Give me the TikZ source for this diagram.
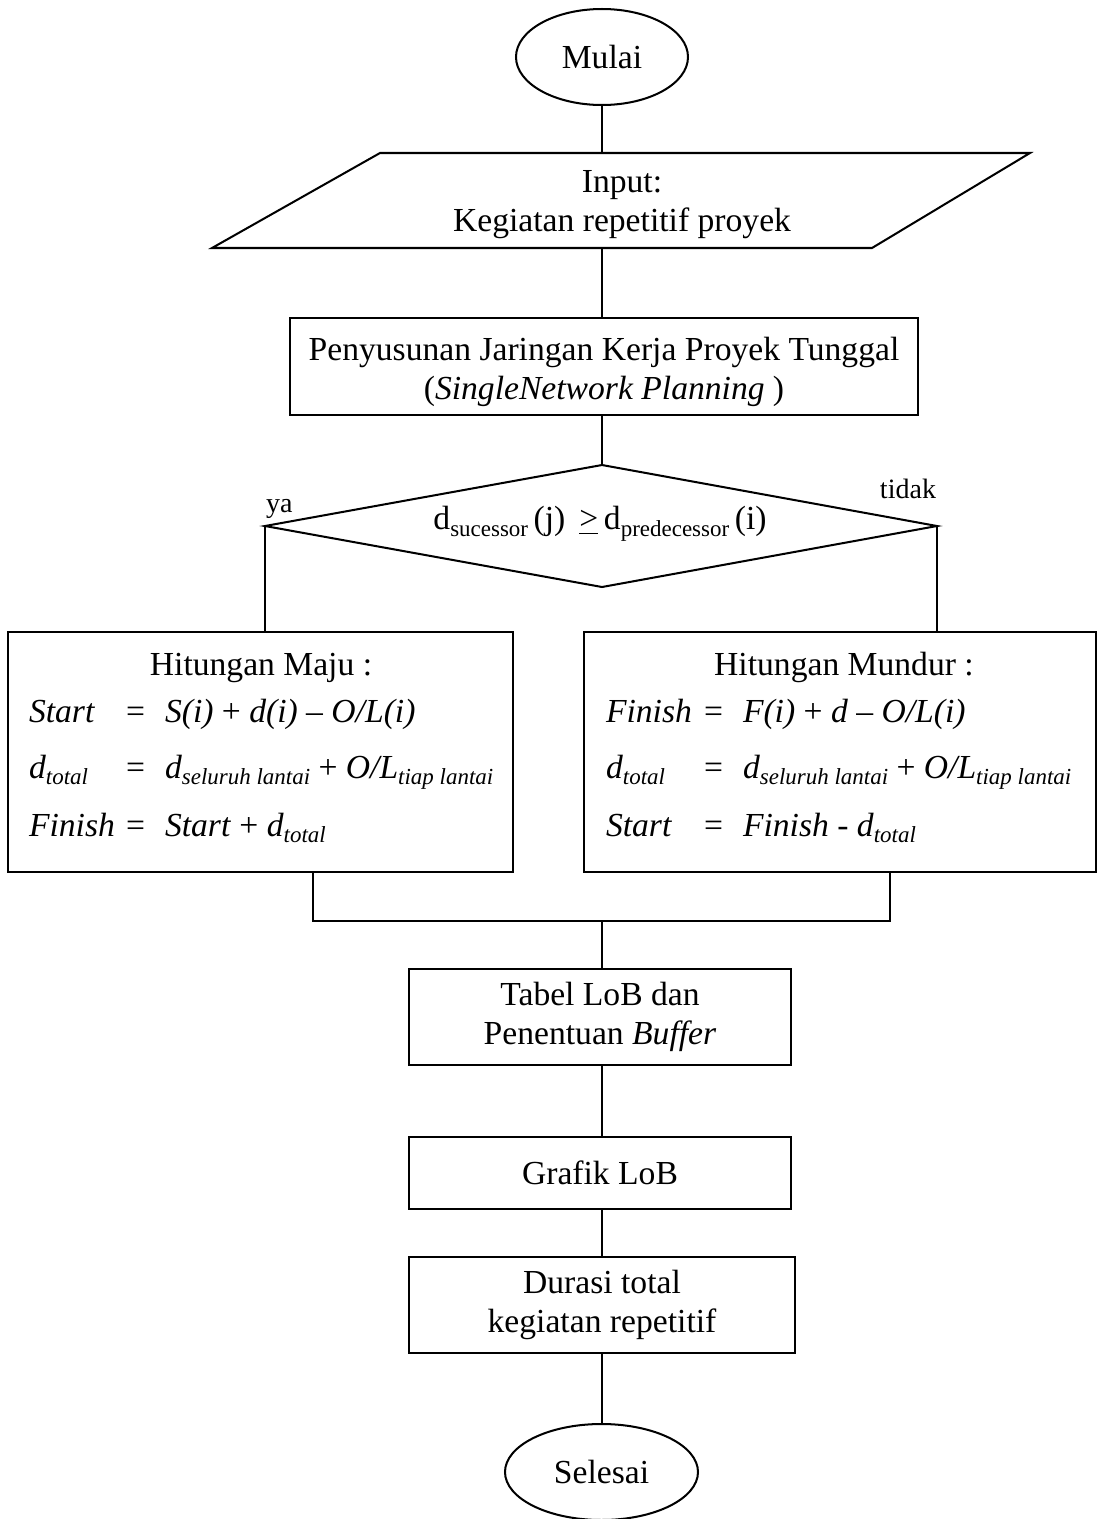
\documentclass[tikz,border=0pt]{standalone}
\usepackage{fontspec}
\setmainfont{Liberation Serif}
\usetikzlibrary{shapes.geometric}
\newcommand\pw[1]{#1*0.357pt}
% subscript set in the text font, a little lowered
\newcommand\subs[1]{\raisebox{-2.4pt}{\fontsize{8.2}{9}\selectfont #1}}
\begin{document}
\begin{tikzpicture}[x=0.357pt,y=-0.357pt,line width=0.72pt,
  font=\fontsize{12}{14}\selectfont,
  terminal/.style={draw,ellipse,inner sep=0pt,minimum height=\pw{96}},
  procbox/.style={draw,rectangle,align=center,inner sep=0pt},
  plain/.style={inner sep=0pt,align=center},
  lbl/.style={anchor=base west,inner sep=0pt},
  eqs/.style={anchor=base,inner sep=0pt},
  small/.style={inner sep=0pt,font=\fontsize{10}{12}\selectfont}]
\useasboundingbox (0,0) rectangle (1098,1519);

% start / end
\node[terminal,minimum width=\pw{172}] (mulai) at (602,57) {Mulai};
\node[terminal,minimum width=\pw{193}] (selesai) at (601.5,1472) {Selesai};

% input parallelogram
\coordinate (p1) at (380,153);
\coordinate (p2) at (1030,153);
\coordinate (p3) at (872,248);
\coordinate (p4) at (212,248);
\draw (p1) -- (p2) -- (p3) -- (p4) -- cycle;
\coordinate (pin) at (602,153);
\coordinate (pout) at (602,248);
\node[plain] (input) at (622,205) {Input:\\Kegiatan repetitif proyek};

% single network planning
\node[procbox,minimum width=\pw{628},minimum height=\pw{97}] (plan) at (604,366.5) {};
\node[plain] (planT) at (604,372)
  {Penyusunan Jaringan Kerja Proyek Tunggal\\(\textit{SingleNetwork Planning} )};

% decision
\coordinate (dt) at (602,465);
\coordinate (dr) at (937,526);
\coordinate (db) at (602,587);
\coordinate (dl) at (265,526);
\draw (dt) -- (dr) -- (db) -- (dl) -- cycle;
\node[plain] (cond) at (600,524)
  {d\subs{sucessor}\,(j) \,\underline{>}\,d\subs{predecessor}\,(i)};
\node[small,anchor=base west] (ya) at (265,512) {ya};
\node[small,anchor=base east] (tidak) at (937,498) {tidak};

% forward / backward computation
\node[procbox,minimum width=\pw{505},minimum height=\pw{240}] (maju) at (260.5,752) {};
\node[procbox,minimum width=\pw{512},minimum height=\pw{240}] (mundur) at (840,752) {};

\node[eqs] (majuT) at (261,675) {Hitungan Maju :};
\node[lbl] (m1a) at (28,722) {\textit{Start}};
\node[lbl] (m1b) at (125,722) {=};
\node[lbl] (m1c) at (164,722) {\textit{S(i)} + \textit{d(i)} – \textit{O/L(i)}};
\node[lbl] (m2a) at (28,778) {\textit{d}\subs{\textit{total}}};
\node[lbl] (m2b) at (125,778) {=};
\node[lbl] (m2c) at (164,778) {\textit{d}\subs{\textit{seluruh lantai}} + \textit{O/L}\subs{\textit{tiap lantai}}};
\node[lbl] (m3a) at (28,836) {\textit{Finish}};
\node[lbl] (m3b) at (125,836) {=};
\node[lbl] (m3c) at (164,836) {\textit{Start} + \textit{d}\subs{\textit{total}}};

\node[eqs] (mundurT) at (844,675) {Hitungan Mundur :};
\node[lbl] (n1a) at (605,722) {\textit{Finish}};
\node[lbl] (n1b) at (703,722) {=};
\node[lbl] (n1c) at (742,722) {\textit{F(i)} + \textit{d} – \textit{O/L(i)}};
\node[lbl] (n2a) at (605,778) {\textit{d}\subs{\textit{total}}};
\node[lbl] (n2b) at (703,778) {=};
\node[lbl] (n2c) at (742,778) {\textit{d}\subs{\textit{seluruh lantai}} + \textit{O/L}\subs{\textit{tiap lantai}}};
\node[lbl] (n3a) at (605,836) {\textit{Start}};
\node[lbl] (n3b) at (703,836) {=};
\node[lbl] (n3c) at (742,836) {\textit{Finish} - \textit{d}\subs{\textit{total}}};

% merge
\coordinate (jl) at (313,921);
\coordinate (jr) at (890,921);
\coordinate (jm) at (602,921);

% remaining steps
\node[procbox,minimum width=\pw{382},minimum height=\pw{96}] (tabel) at (600,1017)
  {Tabel LoB dan\\Penentuan \textit{Buffer}};
\node[procbox,minimum width=\pw{382},minimum height=\pw{72}] (grafik) at (600,1173)
  {Grafik LoB};
\node[procbox,minimum width=\pw{386},minimum height=\pw{96}] (durasi) at (602,1305)
  {Durasi total\\kegiatan repetitif};

% connectors
\draw (mulai.south) -- (pin);
\draw (pout) -- (plan.north -| pout);
\draw (plan.south -| dt) -- (dt);
\draw (dl) -- (maju.north -| dl);
\draw (dr) -- (mundur.north -| dr);
\draw (maju.south -| jl) -- (jl) -- (jr) -- (mundur.south -| jr);
\draw (jm) -- (tabel.north -| jm);
\draw (tabel.south -| jm) -- (grafik.north -| jm);
\draw (grafik.south -| jm) -- (durasi.north -| jm);
\draw (durasi.south -| jm) -- (selesai.north -| jm);
\end{tikzpicture}
\end{document}
